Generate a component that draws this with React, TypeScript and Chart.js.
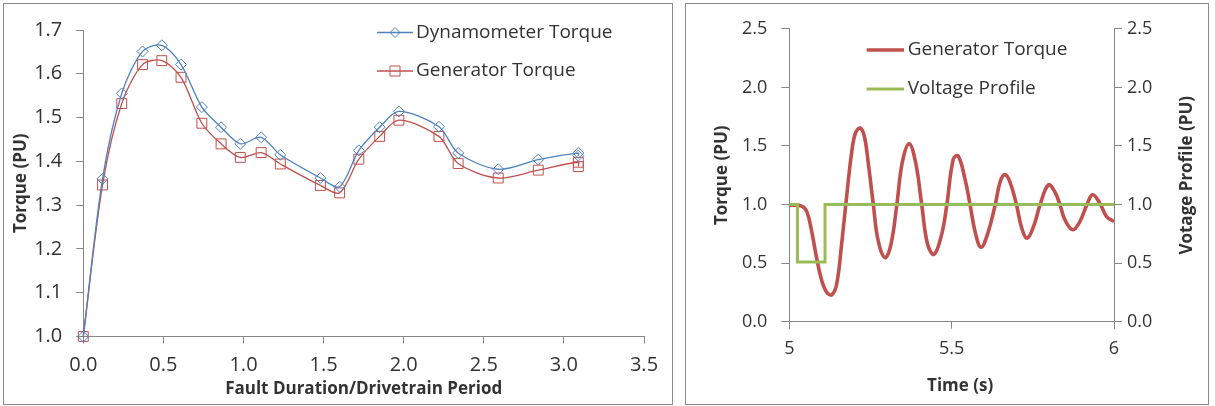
import React, { useEffect, useRef } from "react";
import { Chart, registerables } from "chart.js";

Chart.register(...registerables);

// ---------- Left chart data ----------
const faultDuration = [0, 0.12, 0.24, 0.37, 0.49, 0.61, 0.74, 0.86, 0.98, 1.11, 1.23, 1.48, 1.6, 1.72, 1.85, 1.97, 2.22, 2.34, 2.59, 2.84, 3.09, 3.09];
const dynamometerTorque = [1.0, 1.36, 1.555, 1.651, 1.665, 1.621, 1.524, 1.478, 1.44, 1.455, 1.415, 1.362, 1.342, 1.425, 1.478, 1.514, 1.479, 1.419, 1.382, 1.404, 1.419, 1.413];
const generatorTorqueFault = [1.0, 1.346, 1.532, 1.621, 1.63, 1.592, 1.487, 1.44, 1.409, 1.42, 1.394, 1.345, 1.328, 1.405, 1.457, 1.494, 1.457, 1.395, 1.362, 1.38, 1.398, 1.388];
const leftXTickLabels = ["0.0", "0.5", "1.0", "1.5", "2.0", "2.5", "3.0", "3.5"];
const leftYTickLabels = ["1.0", "1.1", "1.2", "1.3", "1.4", "1.5", "1.6", "1.7"];

// ---------- Right chart data ----------
const timeS = [5.0, 5.038, 5.054, 5.069, 5.084, 5.1, 5.115, 5.131, 5.146, 5.161, 5.177, 5.192, 5.204, 5.218, 5.231, 5.243, 5.259, 5.274, 5.295, 5.313, 5.331, 5.348, 5.369, 5.389, 5.408, 5.426, 5.446, 5.469, 5.485, 5.505, 5.52, 5.541, 5.557, 5.572, 5.59, 5.61, 5.634, 5.649, 5.664, 5.68, 5.7, 5.716, 5.733, 5.754, 5.772, 5.798, 5.818, 5.834, 5.849, 5.873, 5.895, 5.916, 5.934, 5.957, 5.977, 6.0];
const generatorTorqueTime = [0.995, 0.987, 0.939, 0.771, 0.546, 0.35, 0.252, 0.23, 0.322, 0.659, 1.079, 1.443, 1.611, 1.653, 1.583, 1.359, 0.995, 0.687, 0.546, 0.659, 0.995, 1.359, 1.518, 1.359, 0.995, 0.659, 0.575, 0.743, 0.995, 1.387, 1.415, 1.219, 0.995, 0.771, 0.636, 0.743, 0.995, 1.19, 1.255, 1.19, 0.995, 0.798, 0.714, 0.827, 0.995, 1.168, 1.107, 0.995, 0.869, 0.785, 0.855, 0.995, 1.084, 1.008, 0.897, 0.855];
const voltageTime = [5.0, 5.025, 5.025, 5.11, 5.11, 6.0];
const voltageProfile = [1.0, 1.0, 0.51, 0.51, 1.0, 1.0];
const rightXTickLabels = ["5", "5.5", "6"];
const rightYTickLabels = ["0.0", "0.5", "1.0", "1.5", "2.0", "2.5"];

const FONT = "'Open Sans', sans-serif";
const AXIS = "#868686";
const TEXT = "#333333";
const BLUE = "#4F81BD";
const RED = "#C0504D";
const GREEN = "#9BBB59";

function toXY(xs: number[], ys: number[]) {
  return xs.map((x, i) => ({ x, y: ys[i] }));
}

function drawMarker(ctx: CanvasRenderingContext2D, style: string, x: number, y: number, r: number) {
  ctx.beginPath();
  if (style === "rectRot") {
    ctx.moveTo(x, y - r);
    ctx.lineTo(x + r, y);
    ctx.lineTo(x, y + r);
    ctx.lineTo(x - r, y);
    ctx.closePath();
  } else if (style === "rect") {
    ctx.rect(x - r, y - r, 2 * r, 2 * r);
  }
  ctx.stroke();
}

type LegendItem = { text: string; color: string; width: number; marker?: string; markerR?: number };

function legendPlugin(items: LegendItem[], x0: number, len: number, textX: number, y0: number, dy: number, fontSize: number) {
  return {
    id: "customLegend",
    afterDraw(chart: any) {
      const ctx: CanvasRenderingContext2D = chart.ctx;
      items.forEach((it, i) => {
        const y = y0 + i * dy;
        ctx.save();
        ctx.strokeStyle = it.color;
        ctx.lineWidth = it.width;
        ctx.beginPath();
        ctx.moveTo(x0, y);
        ctx.lineTo(x0 + len, y);
        ctx.stroke();
        if (it.marker) {
          ctx.lineWidth = 1;
          drawMarker(ctx, it.marker, x0 + len / 2, y, it.markerR || 4);
        }
        ctx.fillStyle = TEXT;
        ctx.font = `${fontSize}px ${FONT}`;
        ctx.textBaseline = "middle";
        ctx.textAlign = "left";
        ctx.fillText(it.text, textX, y);
        ctx.restore();
      });
    },
  };
}

const rightTitlesPlugin = {
  id: "rightTitles",
  afterDraw(chart: any) {
    const ctx: CanvasRenderingContext2D = chart.ctx;
    const area = chart.chartArea;
    ctx.save();
    ctx.fillStyle = TEXT;
    ctx.font = `bold 17px ${FONT}`;
    ctx.textAlign = "center";
    ctx.textBaseline = "middle";
    // x-axis title, offset slightly right of the plot centre as in the reference
    ctx.fillText("Time (s)", (area.left + area.right) / 2 + 8.5, 382.5);
    // right axis title, reading bottom-to-top
    ctx.translate(501.5, (area.top + area.bottom) / 2);
    ctx.rotate(-Math.PI / 2);
    ctx.fillText("Votage Profile (PU)", 0, 0);
    ctx.restore();
  },
};

function LeftChart() {
  const ref = useRef<HTMLCanvasElement>(null);
  useEffect(() => {
    const chart = new Chart(ref.current as HTMLCanvasElement, {
      type: "line",
      data: {
        datasets: [
          {
            label: "Dynamometer Torque",
            data: toXY(faultDuration, dynamometerTorque),
            borderColor: BLUE,
            borderWidth: 1.3,
            pointStyle: "rectRot",
            pointRadius: 5.5,
            pointBorderColor: BLUE,
            pointBackgroundColor: "rgba(255,255,255,0)",
            pointBorderWidth: 1,
            tension: 0.3,
            clip: false,
          } as any,
          {
            label: "Generator Torque",
            data: toXY(faultDuration, generatorTorqueFault),
            borderColor: RED,
            borderWidth: 1.3,
            pointStyle: "rect",
            pointRadius: 7,
            pointBorderColor: RED,
            pointBackgroundColor: "rgba(255,255,255,0)",
            pointBorderWidth: 1,
            tension: 0.3,
            clip: false,
          } as any,
        ],
      },
      options: {
        animation: false,
        responsive: false,
        layout: { padding: { top: 18.7, right: 28, left: 0, bottom: 0 } },
        plugins: { legend: { display: false }, tooltip: { enabled: false } },
        scales: {
          x: {
            type: "linear",
            min: 0,
            max: 3.5,
            ticks: {
              stepSize: 0.5,
              padding: 10,
              color: TEXT,
              font: { family: FONT, size: 20 },
              maxRotation: 0,
              callback: (v: any, i: number) => leftXTickLabels[i] ?? Number(v).toFixed(1),
            },
            grid: { drawOnChartArea: false, tickLength: 7, color: AXIS },
            border: { color: AXIS, width: 1 },
            title: {
              display: true,
              text: "Fault Duration/Drivetrain Period",
              color: TEXT,
              font: { family: FONT, size: 17, weight: "bold" },
              padding: { top: 0, bottom: 5 },
            },
            afterFit: (s: any) => {
              s.height = 67.5;
            },
          },
          y: {
            type: "linear",
            min: 1,
            max: 1.7,
            ticks: {
              stepSize: 0.1,
              padding: 14,
              color: TEXT,
              font: { family: FONT, size: 20 },
              callback: (v: any, i: number) => leftYTickLabels[i] ?? Number(v).toFixed(1),
            },
            grid: { drawOnChartArea: false, tickLength: 7, color: AXIS },
            border: { color: AXIS, width: 1 },
            title: {
              display: true,
              text: "Torque (PU)",
              color: TEXT,
              font: { family: FONT, size: 17, weight: "bold" },
              padding: { top: 7, bottom: 0 },
            },
            afterFit: (s: any) => {
              s.width = 79.3;
            },
          },
        },
      } as any,
      plugins: [
        legendPlugin(
          [
            { text: "Dynamometer Torque", color: BLUE, width: 1.3, marker: "rectRot", markerR: 5 },
            { text: "Generator Torque", color: RED, width: 1.3, marker: "rect", markerR: 5 },
          ],
          373,
          36,
          412,
          28.5,
          38.5,
          19
        ),
      ],
    });
    return () => chart.destroy();
  }, []);
  return <canvas ref={ref} width={668} height={400} style={{ display: "block", width: 668, height: 400 }} />;
}

function RightChart() {
  const ref = useRef<HTMLCanvasElement>(null);
  useEffect(() => {
    const chart = new Chart(ref.current as HTMLCanvasElement, {
      type: "line",
      data: {
        datasets: [
          {
            label: "Voltage Profile",
            data: toXY(voltageTime, voltageProfile),
            borderColor: GREEN,
            borderWidth: 3,
            pointRadius: 0,
            tension: 0,
            yAxisID: "y2",
            order: 0,
          } as any,
          {
            label: "Generator Torque",
            data: toXY(timeS, generatorTorqueTime),
            borderColor: RED,
            borderWidth: 3.6,
            pointRadius: 0,
            tension: 0.4,
            yAxisID: "y",
            order: 1,
          } as any,
        ],
      },
      options: {
        animation: false,
        responsive: false,
        layout: { padding: { top: 20.3, right: 0, left: 0, bottom: 0 } },
        plugins: { legend: { display: false }, tooltip: { enabled: false } },
        scales: {
          x: {
            type: "linear",
            min: 5,
            max: 6,
            ticks: {
              stepSize: 0.5,
              padding: 9.5,
              color: TEXT,
              font: { family: FONT, size: 18 },
              maxRotation: 0,
              callback: (v: any, i: number) => rightXTickLabels[i] ?? String(v),
            },
            grid: { drawOnChartArea: false, tickLength: 7, color: AXIS },
            border: { color: AXIS, width: 1 },
            afterFit: (s: any) => {
              s.height = 82.3;
            },
          },
          y: {
            type: "linear",
            position: "left",
            min: 0,
            max: 2.5,
            ticks: {
              stepSize: 0.5,
              padding: 14,
              color: TEXT,
              font: { family: FONT, size: 18 },
              callback: (v: any, i: number) => rightYTickLabels[i] ?? Number(v).toFixed(1),
            },
            grid: { drawOnChartArea: false, tickLength: 8, color: AXIS },
            border: { color: AXIS, width: 1 },
            title: {
              display: true,
              text: "Torque (PU)",
              color: TEXT,
              font: { family: FONT, size: 17, weight: "bold" },
              padding: { top: 26, bottom: 0 },
            },
            afterFit: (s: any) => {
              s.width = 103.3;
            },
          },
          y2: {
            type: "linear",
            position: "right",
            min: 0,
            max: 2.5,
            ticks: {
              stepSize: 0.5,
              padding: 5,
              color: TEXT,
              font: { family: FONT, size: 18 },
              callback: (v: any, i: number) => rightYTickLabels[i] ?? Number(v).toFixed(1),
            },
            grid: { drawOnChartArea: false, tickLength: 8, color: AXIS },
            border: { color: AXIS, width: 1 },
            afterFit: (s: any) => {
              s.width = 94;
            },
          },
        },
      } as any,
      plugins: [
        legendPlugin(
          [
            { text: "Generator Torque", color: RED, width: 3.6 },
            { text: "Voltage Profile", color: GREEN, width: 3 },
          ],
          180.7,
          37.3,
          221.7,
          46,
          39,
          19
        ),
        rightTitlesPlugin,
      ],
    });
    return () => chart.destroy();
  }, []);
  return <canvas ref={ref} width={522} height={400} style={{ display: "block", width: 522, height: 400 }} />;
}

export default function App() {
  const box: React.CSSProperties = {
    position: "absolute",
    top: 3,
    height: 402,
    border: "1px solid #8a8a8a",
    boxSizing: "border-box",
    background: "#ffffff",
  };
  return (
    <div style={{ position: "absolute", left: 0, top: 0, width: 1215, height: 406, background: "#ffffff" }}>
      <div style={{ ...box, left: 3, width: 670 }}>
        <LeftChart />
      </div>
      <div style={{ ...box, left: 685, width: 524 }}>
        <RightChart />
      </div>
    </div>
  );
}
